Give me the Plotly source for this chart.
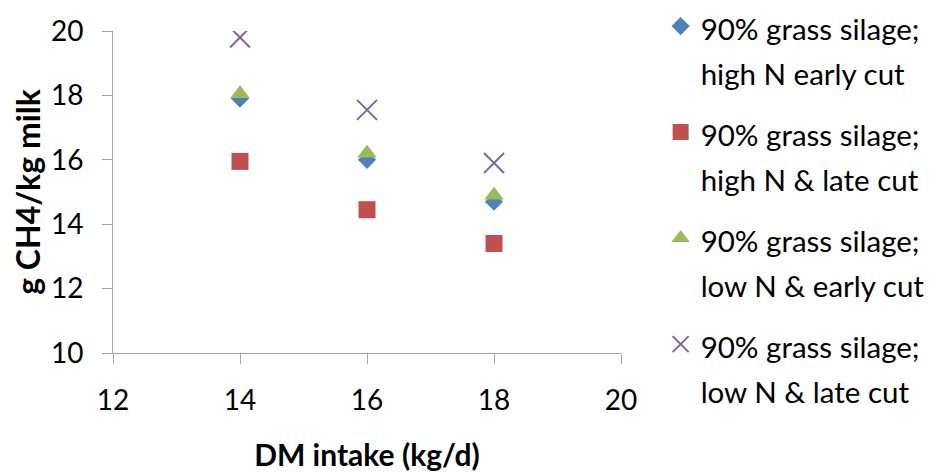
import plotly.graph_objects as go

dm_intake = [14, 16, 18]
high_n_early = [17.9, 16.0, 14.7]
high_n_late = [15.95, 14.45, 13.4]
low_n_early = [18.05, 16.2, 14.9]
low_n_late = [19.8, 17.55, 15.9]

names = [
    "90% grass silage;<br>high N early cut",
    "90% grass silage;<br>high N & late cut",
    "90% grass silage;<br>low N & early cut",
    "90% grass silage;<br>low N & late cut",
]
series = [high_n_early, high_n_late, low_n_early, low_n_late]
colors = ["#4F81BD", "#C0504D", "#9BBB59", "#8064A2"]
symbols = ["diamond", "square", "triangle-up", "x-thin-open"]
sizes = [14, 17, 17, 20]

FONT = "Lato, 'Open Sans', sans-serif"
LEG_TXT = 29.5

fig = go.Figure()
for i, (nm, ys) in enumerate(zip(names, series)):
    label = "<br>".join(
        f"<span style='font-size:{LEG_TXT}px'>{part}</span>" for part in nm.split("<br>")
    )
    fig.add_trace(go.Scatter(
        x=dm_intake, y=ys, mode="markers", name=label, legendgroup=f"g{i}",
        marker=dict(symbol=symbols[i], size=sizes[i], color=colors[i],
                    line=dict(width=2, color=colors[i]) if symbols[i].startswith("x") else dict(width=0)),
    ))

axis_common = dict(
    showline=True, linecolor="#A6A6A6", linewidth=1,
    ticks="outside", ticklen=10, tickcolor="#A6A6A6", tickwidth=1,
    showgrid=False, zeroline=False,
    tickfont=dict(family=FONT, size=28, color="#000000"),
)

fig.update_layout(
    width=935, height=472,
    margin=dict(l=105, r=322, t=23, b=127, autoexpand=False),
    paper_bgcolor="white", plot_bgcolor="white",
    font=dict(family=FONT, color="#000000"),
    xaxis=dict(range=[12, 20], dtick=2, tick0=12,
               title=dict(text="<b>DM intake (kg/d)</b>", font=dict(family=FONT, size=30), standoff=30),
               ticklabelstandoff=12, automargin=False, **axis_common),
    yaxis=dict(range=[10, 20], dtick=2, tick0=10,
               title=dict(text="<b>g CH4/kg milk</b>", font=dict(family=FONT, size=32), standoff=12),
               ticklabelstandoff=13, automargin=False, **axis_common),
    legend=dict(
        xref="container", yref="paper", x=0.698, y=1.106, xanchor="left", yanchor="top",
        font=dict(family=FONT, size=35, color="#000000"),
        valign="top", tracegroupgap=12, bgcolor="rgba(0,0,0,0)", maxheight=472,
    ),
)

fig.write_html("out.html")
